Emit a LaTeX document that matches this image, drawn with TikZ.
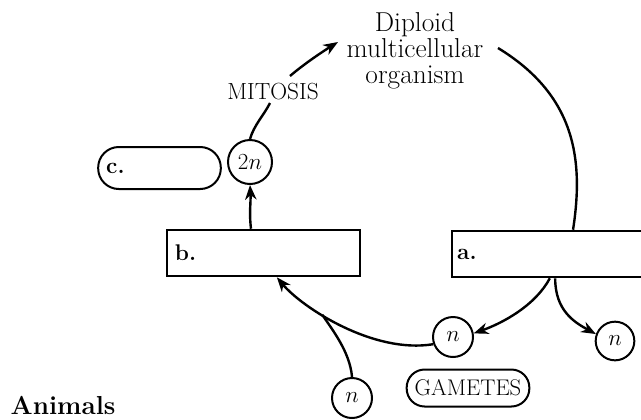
\documentclass[tikz,border=0pt]{standalone}
\usepackage{fontspec}
\usetikzlibrary{arrows.meta}
\begin{document}
\begin{tikzpicture}[x=0.75pt, y=-0.75pt,
  cell/.style={circle, draw, line width=1.5pt, minimum size=30pt, inner sep=0pt, font=\fontsize{19}{21}\selectfont},
  slot/.style={rectangle, draw, line width=1.9pt, minimum height=34.5pt, text width=133pt, inner xsep=6pt, align=left, font=\bfseries\fontsize{17}{19}\selectfont},
  pill/.style={rectangle, draw, line width=1.5pt, inner sep=0pt},
  cyc/.style={line width=1.8pt},
  flow/.style={line width=1.8pt, -{Stealth[length=11pt, width=8.5pt, inset=3.5pt]}}]
\useasboundingbox (0,0) rectangle (641,419);
\clip (0,0) rectangle (641,419);
\node[align=center, font=\fontsize{20.5}{19.5}\selectfont] (org) at (415,51) {Diploid\\multicellular\\organism};
\node[font=\fontsize{17.5}{19}\selectfont] (mitosis) at (273,92) {MITOSIS};
\node[cell, minimum size=33pt, font=\fontsize{18}{20}\selectfont] (twon) at (250,162) {$2n$};
\node[pill, minimum width=92pt, minimum height=31.5pt, rounded corners=15.5pt, text width=80pt, inner xsep=6pt, align=left, font=\bfseries\fontsize{17}{19}\selectfont] (cbox) at (159.5,168) {c.};
\node[slot] (bbox) at (263.5,253) {b.};
\node[slot, text width=137pt, inner xsep=4pt] (abox) at (548.5,254) {a.};
\node[cell] (n1) at (453,337) {$n$};
\node[cell, minimum size=29pt] (n2) at (615,341) {$n$};
\node[cell] (n3) at (352,398) {$n$};
\node[pill, minimum width=92pt, minimum height=27.75pt, rounded corners=13.5pt, font=\fontsize{17}{19}\selectfont] (gametes) at (468,388) {GAMETES};
\node[anchor=base west, font=\bfseries\fontsize{19.5}{21}\selectfont] (animals) at (6,414) {Animals};
\coordinate (mitB) at (270,103);
\coordinate (mitT) at (290,76);
\coordinate (orgL) at (338,42);
\coordinate (orgR) at (498,48);
\draw[cyc] (orgR) .. controls +(77,47) and +(11,-71) .. ([xshift=18.4pt]abox.north);
\draw[flow] ([xshift=-9.4pt]bbox.north) .. controls +(-2,-18) and +(1,18) .. (twon.south);
\draw[cyc] (twon.north) .. controls +(4,-14) and +(-6,12) .. (mitB);
\draw[flow] (mitT) .. controls +(14,-12) and +(-16,10) .. (orgL);
\draw[flow] ([xshift=1pt]abox.south) .. controls +(-15,28) and +(28,-10) .. (n1.10);
\draw[flow] ([xshift=5pt]abox.south) .. controls +(0,32) and +(-22,-12) .. (n2.160);
\draw[flow] (n1.200) .. controls +(-60,10) and +(25,30) .. ([xshift=10pt]bbox.south) coordinate[pos=0.62] (join);
\draw[cyc] (n3.north) .. controls +(-2,-25) and +(10,15) .. (join);
\end{tikzpicture}
\end{document}
